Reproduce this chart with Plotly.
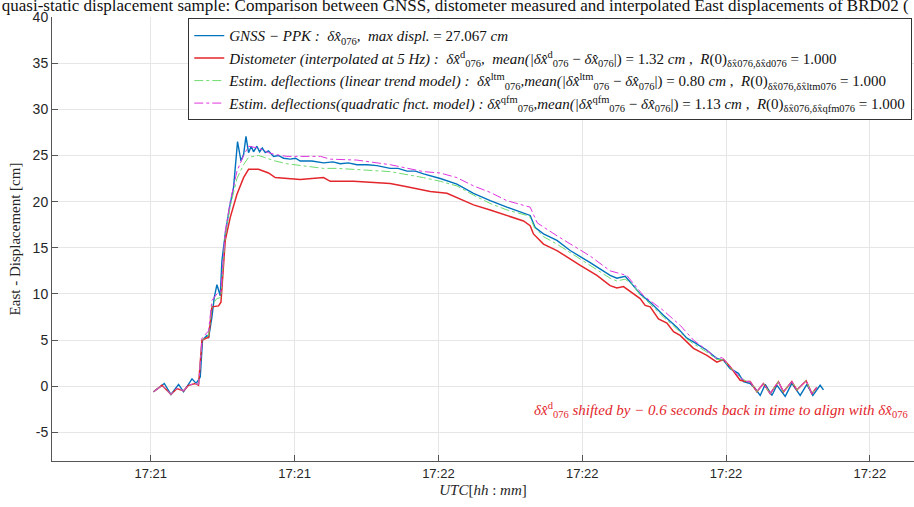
import plotly.graph_objects as go
import pandas as pd

# time in seconds after 17:21:00 (UTC), values in cm
t_gnss = [30.29, 31.41, 32.11, 32.90, 33.42, 34.30, 34.74, 35.16, 35.40, 35.86, 36.03, 36.38, 36.62, 36.90,
          37.25, 37.42, 37.77, 38.22, 38.63, 39.05, 39.41, 39.68, 39.93, 40.20, 40.48, 40.72, 41.07, 41.35,
          41.63, 41.94, 42.28, 42.81, 43.30, 43.85, 44.55, 45.10, 45.59, 46.8, 48.02, 49.0, 49.76, 50.6, 51.50,
          52.6, 53.59, 54.97, 55.8, 56.72, 57.6, 58.45, 60.19, 61.93, 63.66, 65.40, 67.14, 69.23, 69.57,
          70.09, 70.96, 72.36, 73.74, 75.83, 77.91, 78.61, 79.48, 80.00, 81.04, 82.09, 83.47, 84.87, 85.91,
          86.60, 88.00, 89.04, 89.73, 90.43, 91.29, 91.81, 92.51, 93.03, 93.56, 94.08, 94.78, 95.30, 96.17,
          96.86, 97.73, 98.43, 99.05, 99.81, 100.16]
v_gnss = [-0.6, 0.3, -0.9, 0.2, -0.6, 0.8, 0.3, 1.0, 5.0, 5.5, 5.2, 7.5, 9.6, 11.0,
          9.8, 13.6, 16.5, 19.4, 21.5, 26.5, 24.4, 25.1, 27.07, 25.3, 26.0, 25.4, 26.0, 25.4,
          25.8, 25.3, 25.5, 24.9, 25.0, 24.7, 24.6, 24.7, 24.4, 24.4, 24.2, 24.3, 24.1, 24.2, 24.0,
          24.0, 23.9, 23.6, 23.6, 23.3, 23.3, 23.0, 22.5, 21.9, 20.9, 20.1, 19.4, 18.6, 18.5,
          17.2, 16.5, 15.8, 14.7, 13.4, 12.0, 11.7, 11.9, 11.3, 10.0, 9.1, 7.7, 6.4, 5.2,
          4.8, 3.9, 3.0, 2.8, 1.9, 1.4, 0.5, 0.3, -0.25, -1.0, 0.2, -1.0, 0.1, -1.1,
          0.3, -1.0, 0.2, -1.0, 0.1, -0.4]

t_dist = [30.29, 31.17, 32.11, 32.73, 33.42, 33.94, 34.64, 34.98, 35.34, 36.03, 36.38, 37.07, 37.32, 37.77,
          38.29, 38.99, 39.68, 40.20, 41.24, 42.28, 42.98, 44.20, 45.59, 48.02, 48.72, 51.15, 54.97, 56.72,
          59.15, 60.89, 61.93, 63.66, 65.40, 67.14, 68.87, 69.57, 69.91, 70.96, 72.36, 74.79, 76.53, 77.91,
          78.61, 79.30, 80.34, 81.04, 81.56, 82.09, 82.95, 83.83, 84.52, 85.21, 86.60, 88.00, 89.04, 89.73,
          90.43, 91.47, 92.17, 92.51, 93.21, 93.90, 94.60, 95.46, 95.99, 96.86, 97.38, 98.35, 98.95, 99.47]
v_dist = [-0.6, 0.1, -0.9, -0.25, -0.5, 0.1, 0.3, 0.1, 5.0, 5.3, 8.6, 8.7, 9.1, 15.8,
          18.3, 20.8, 22.6, 23.5, 23.5, 23.1, 22.6, 22.5, 22.4, 22.6, 22.2, 22.2, 21.95, 21.6,
          21.1, 20.9, 20.4, 19.65, 19.1, 18.5, 17.9, 17.4, 16.5, 15.4, 14.7, 13.1, 12.0, 10.9,
          10.65, 10.8, 10.0, 9.5, 8.75, 8.6, 7.3, 6.85, 5.9, 5.5, 4.1, 3.35, 2.6, 2.9,
          2.1, 0.65, 0.5, 0.5, -0.6, 0.3, -0.8, 0.5, -0.6, 0.5, -0.4, 0.6, -0.8, -0.1]

t_ltm = [30.29, 31.17, 32.11, 32.73, 33.42, 33.94, 34.64, 35.0, 35.34, 36.03, 36.38, 36.9, 37.3, 37.77,
         38.29, 38.99, 39.68, 40.2, 41.24, 42.28, 42.98, 44.2, 45.59, 48.02, 49.5, 51.5, 54.97, 58.45,
         60.19, 61.93, 63.66, 65.4, 67.14, 69.23, 69.57, 70.0, 70.96, 72.36, 75.83, 77.91, 78.61, 79.48,
         80.34, 81.04, 82.09, 83.47, 84.87, 85.91, 86.60, 88.0, 89.04, 89.73, 90.43, 91.47, 92.17, 92.51,
         93.21, 93.9, 94.6, 95.46, 95.99, 96.86, 97.38, 98.35, 98.95, 99.47]
v_ltm = [-0.6, 0.1, -0.9, -0.2, -0.5, 0.1, 0.3, 0.2, 5.0, 5.5, 8.8, 9.5, 9.6, 16.3,
         19.5, 22.5, 24.0, 24.8, 25.0, 24.6, 24.4, 24.1, 23.9, 23.6, 23.6, 23.5, 23.25, 22.6,
         22.2, 21.7, 20.7, 19.8, 19.1, 18.5, 18.3, 17.2, 16.2, 15.4, 13.05, 11.7, 11.4, 11.6,
         10.9, 9.9, 8.9, 7.5, 6.2, 5.1, 4.6, 3.7, 2.9, 2.85, 2.0, 1.0, 0.5, 0.5,
         -0.6, 0.3, -0.8, 0.5, -0.6, 0.5, -0.4, 0.6, -0.8, -0.1]

t_qfm = [30.29, 31.17, 32.11, 32.73, 33.42, 33.94, 34.64, 35.0, 35.34, 36.03, 36.38, 36.9, 37.3, 37.77,
         38.29, 38.99, 39.68, 40.2, 41.24, 42.28, 42.98, 44.2, 45.59, 47.7, 48.72, 51.5, 54.97, 58.45,
         60.19, 61.93, 63.66, 65.4, 67.14, 68.87, 69.57, 70.3, 72.36, 75.83, 77.91, 78.95, 79.65, 81.4,
         83.47, 85.21, 86.6, 88.0, 89.04, 89.6, 90.43, 91.47, 92.17, 92.51, 93.21, 93.9, 94.6, 95.46,
         95.99, 96.86, 97.38, 98.35, 98.95, 99.47]
v_qfm = [-0.6, 0.1, -0.9, -0.2, -0.5, 0.1, 0.3, 0.2, 5.2, 6.0, 9.3, 10.0, 10.2, 16.8,
         20.0, 23.3, 25.0, 26.0, 25.8, 25.3, 25.1, 24.9, 24.9, 24.9, 24.6, 24.5, 24.0, 23.25,
         23.1, 22.6, 21.7, 21.0, 20.1, 19.65, 19.4, 17.7, 16.3, 14.1, 12.5, 12.2, 12.0, 9.8,
         8.2, 6.6, 5.0, 3.9, 3.0, 3.1, 2.1, 0.9, 0.5, 0.5, -0.6, 0.3, -0.8, 0.5,
         -0.6, 0.5, -0.4, 0.6, -0.8, -0.1]

tick_secs = [30, 45, 60, 75, 90, 105]
x_range_secs = [19.7, 109.6]
y_range = [-8.1, 40]
y_ticks = [-5, 0, 5, 10, 15, 20, 25, 30, 35, 40]
y_ticktext = ["-5", "0", "5", "10", "15", "20", "25", "30", "35", "40"]

base = pd.Timestamp("2021-01-01 17:21:00")
def to_time(secs):
    return [(base + pd.Timedelta(seconds=s)).strftime("%Y-%m-%d %H:%M:%S.%f") for s in secs]

SERIF = "Liberation Serif"
SANS = "Liberation Sans"

names = [
    "<i>GNSS − PPK :  δx̂</i><sub>076</sub><i>,  max displ.</i> = 27.067 <i>cm</i>",
    "<i>Distometer (interpolated at 5 Hz) :  δx̂</i><sup>d</sup><sub>076</sub><i>,  mean(|δx̂</i><sup>d</sup><sub>076</sub> − <i>δx̂</i><sub>076</sub>|) = 1.32 <i>cm</i> ,  <i>R</i>(0)<sub>δx̂076,δx̂d076</sub> = 1.000",
    "<i>Estim. deflections (linear trend model) :  δx̂</i><sup>ltm</sup><sub>076</sub><i>,mean(|δx̂</i><sup>ltm</sup><sub>076</sub> − <i>δx̂</i><sub>076</sub>|) = 0.80 <i>cm</i> ,  <i>R</i>(0)<sub>δx̂076,δx̂ltm076</sub> = 1.000",
    "<i>Estim. deflections(quadratic fnct. model) : δx̂</i><sup>qfm</sup><sub>076</sub><i>,mean(|δx̂</i><sup>qfm</sup><sub>076</sub> − <i>δx̂</i><sub>076</sub>|) = 1.13 <i>cm</i> ,  <i>R</i>(0)<sub>δx̂076,δx̂qfm076</sub> = 1.000",
]

fig = go.Figure()
fig.add_trace(go.Scatter(x=to_time(t_gnss), y=v_gnss, mode="lines", name=names[0],
                         line=dict(color="#0072BD", width=1.4)))
fig.add_trace(go.Scatter(x=to_time(t_dist), y=v_dist, mode="lines", name=names[1],
                         line=dict(color="#E3262B", width=1.5)))
fig.add_trace(go.Scatter(x=to_time(t_ltm), y=v_ltm, mode="lines", name=names[2],
                         line=dict(color="#6FDC6F", width=1, dash="dashdot")))
fig.add_trace(go.Scatter(x=to_time(t_qfm), y=v_qfm, mode="lines", name=names[3],
                         line=dict(color="#E034E0", width=1, dash="dashdot")))

fig.add_annotation(
    text="<i>δx̂</i><sup>d</sup><sub>076</sub><i> shifted by − 0.6 seconds back in time to align with δx̂</i><sub>076</sub>",
    xref="paper", yref="y", x=0.995, y=-2.6, xanchor="right", yanchor="middle",
    showarrow=False, font=dict(family=SERIF, size=15, color="#E3262B"))

fig.update_layout(
    width=914, height=507,
    margin=dict(l=52, r=0, t=17, b=46),
    paper_bgcolor="white", plot_bgcolor="white",
    title=dict(text="quasi-static displacement sample: Comparison between GNSS, distometer measured and interpolated East displacements of BRD02 (",
               x=0.002, xanchor="left", xref="container", y=0.99, yref="container", yanchor="middle",
               font=dict(family=SERIF, size=17, color="#111")),
    legend=dict(x=0.998, xanchor="right", y=0.997, yanchor="top", bgcolor="white",
                bordercolor="#333", borderwidth=1, font=dict(family=SERIF, size=15, color="#111"),
                itemwidth=30, tracegroupgap=0),
    showlegend=True,
)
fig.update_xaxes(
    type="date", range=to_time(x_range_secs), tickvals=to_time(tick_secs), tickformat="%H:%M",
    showgrid=True, gridcolor="#e6e6e6", gridwidth=1, zeroline=False,
    showline=True, linecolor="#555", linewidth=1, ticks="inside", ticklen=6, tickcolor="#555",
    tickfont=dict(family=SANS, size=13, color="#262626"),
    title=dict(text="<i>UTC</i>[<i>hh</i> : <i>mm</i>]", font=dict(family=SERIF, size=15, color="#262626"), standoff=4),
)
fig.update_yaxes(
    range=y_range, tickvals=y_ticks, ticktext=y_ticktext,
    showgrid=True, gridcolor="#e6e6e6", gridwidth=1, zeroline=False,
    showline=True, linecolor="#555", linewidth=1, ticks="inside", ticklen=6, tickcolor="#555",
    tickfont=dict(family=SANS, size=14, color="#262626"),
    title=dict(text="East - Displacement [cm]", font=dict(family=SERIF, size=15, color="#262626"), standoff=8),
)

fig.write_html("out.html")
